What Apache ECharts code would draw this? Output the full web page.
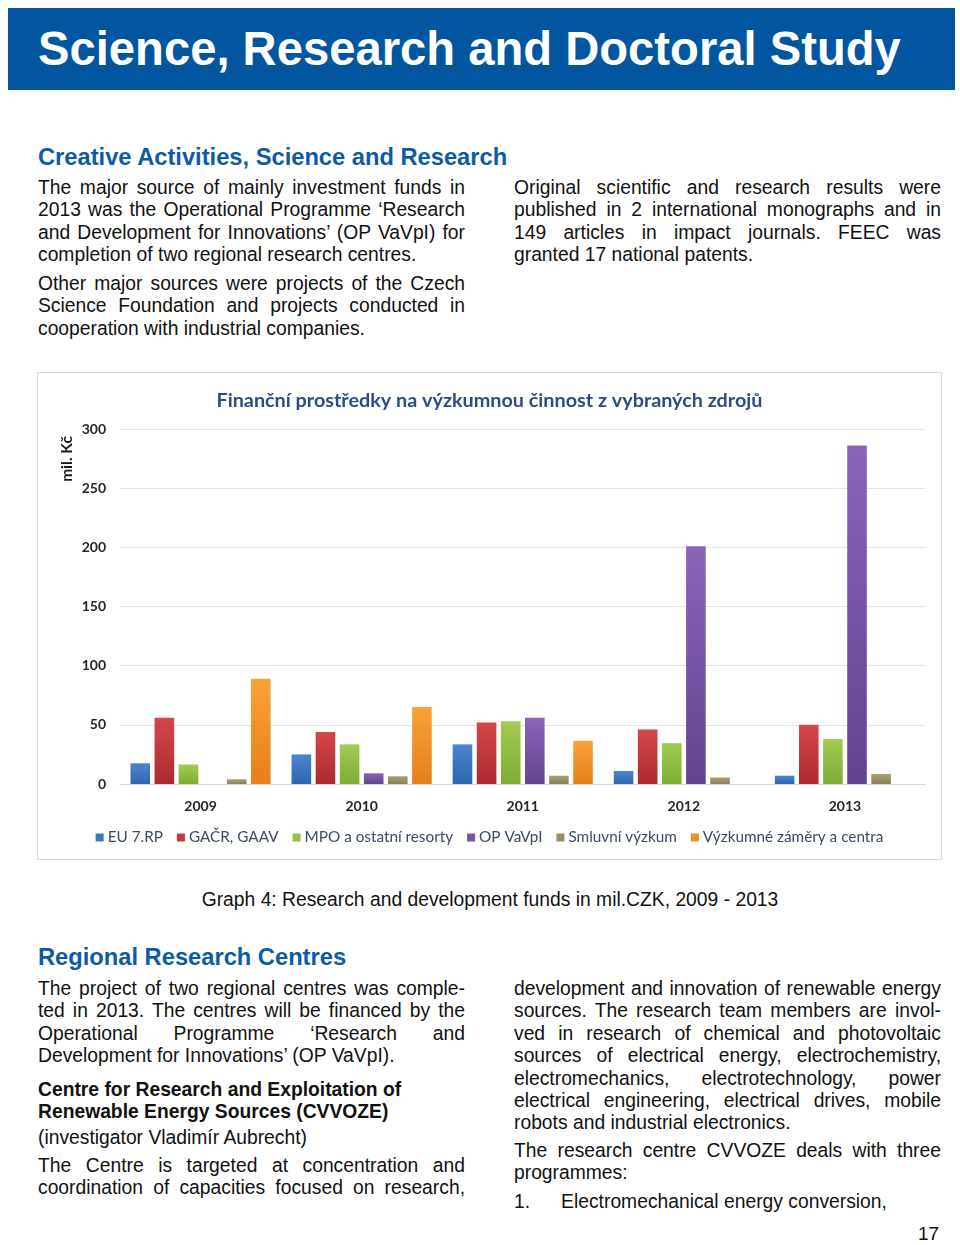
<!DOCTYPE html>
<html>
<head>
<meta charset="utf-8">
<script src="https://cdn.jsdelivr.net/npm/echarts@6/dist/echarts.min.js"></script>
<style>
  html, body { margin:0; padding:0; background:#fff; }
  body { width:960px; height:1245px; position:relative; overflow:hidden; font-family:"Liberation Sans", Arial, sans-serif; color:#111; }
  .header { position:absolute; left:8px; top:8px; width:947px; height:82px; background:#02569f; }
  .header h1 { position:absolute; left:30px; top:12px; margin:0; font-size:47.2px; line-height:58px; font-weight:bold; color:#fff; }
  .h2 { position:absolute; margin:0; font-weight:bold; color:#0e5aa4; font-size:23.7px; line-height:28px; white-space:nowrap; }
  .blk { position:absolute; font-size:19.3px; line-height:22.4px; }
  .blk div { white-space:nowrap; text-align:justify; text-align-last:justify; }
  .blk div.l { text-align:left; text-align-last:left; }
  .cap { position:absolute; left:0; width:980px; text-align:center; top:888px; font-size:19.3px; line-height:24px; }
  #chart { position:absolute; left:38px; top:373px; width:903px; height:486px; }
  .frame { position:absolute; left:37px; top:372px; width:903px; height:486px; border:1px solid #d6dde6; pointer-events:none; }
  .pg { position:absolute; left:918px; top:1223px; font-size:19px; line-height:22px; }
</style>
</head>
<body>
<div class="header"><h1>Science, Research and Doctoral Study</h1></div>

<div class="h2" style="left:38px; top:143px;">Creative Activities, Science and Research</div>
<div class="blk" style="left:38px; top:177px; width:427px;">
  <div>The major source of mainly investment funds in</div>
  <div>2013 was the Operational Programme ‘Research</div>
  <div>and Development for Innovations’ (OP VaVpI) for</div>
  <div class="l">completion of two regional research centres.</div>
</div>
<div class="blk" style="left:38px; top:273px; width:427px;">
  <div>Other major sources were projects of the Czech</div>
  <div>Science Foundation and projects conducted in</div>
  <div class="l">cooperation with industrial companies.</div>
</div>
<div class="blk" style="left:514px; top:177px; width:427px;">
  <div>Original scientific and research results were</div>
  <div>published in 2 international monographs and in</div>
  <div>149 articles in impact journals. FEEC was</div>
  <div class="l">granted 17 national patents.</div>
</div>

<div id="chart"></div>
<div class="frame"></div>

<div class="cap">Graph 4: Research and development funds in mil.CZK, 2009 - 2013</div>

<div class="h2" style="left:38px; top:943px;">Regional Research Centres</div>
<div class="blk" style="left:38px; top:978px; width:427px;">
  <div>The project of two regional centres was comple-</div>
  <div>ted in 2013. The centres will be financed by the</div>
  <div>Operational Programme ‘Research and</div>
  <div class="l">Development for Innovations’ (OP VaVpI).</div>
</div>
<div class="blk" style="left:38px; top:1079px; width:427px; font-weight:bold;">
  <div class="l">Centre for Research and Exploitation of</div>
  <div class="l">Renewable Energy Sources (CVVOZE)</div>
</div>
<div class="blk" style="left:38px; top:1127px; width:427px;">
  <div class="l">(investigator Vladimír Aubrecht)</div>
</div>
<div class="blk" style="left:38px; top:1155px; width:427px;">
  <div>The Centre is targeted at concentration and</div>
  <div>coordination of capacities focused on research,</div>
</div>
<div class="blk" style="left:514px; top:978px; width:427px;">
  <div>development and innovation of renewable energy</div>
  <div>sources. The research team members are invol-</div>
  <div>ved in research of chemical and photovoltaic</div>
  <div>sources of electrical energy, electrochemistry,</div>
  <div>electromechanics, electrotechnology, power</div>
  <div>electrical engineering, electrical drives, mobile</div>
  <div class="l">robots and industrial electronics.</div>
</div>
<div class="blk" style="left:514px; top:1140px; width:427px;">
  <div>The research centre CVVOZE deals with three</div>
  <div class="l">programmes:</div>
</div>
<div class="blk" style="left:514px; top:1191px; width:427px;">
  <div class="l">1.<span style="display:inline-block; width:31px;"></span>Electromechanical energy conversion,</div>
</div>
<div class="pg">17</div>

<script>
const years = ['2009', '2010', '2011', '2012', '2013'];
const seriesNames = ['EU 7.RP', 'GAČR, GAAV', 'MPO a ostatní resorty', 'OP VaVpI', 'Smluvní výzkum', 'Výzkumné záměry a centra'];
const euRP = [17.5, 25, 33.5, 11, 7];
const gacrGaav = [56, 44, 52, 46, 50];
const mpoResorty = [16.5, 33.5, 53, 34.5, 38];
const opVaVpI = [0, 9, 56, 201, 286];
const smluvniVyzkum = [4, 6.5, 7, 5.5, 8.5];
const vyzkumneZamery = [89, 65, 36.5, 0, 0];
const yTicks = [0, 50, 100, 150, 200, 250, 300];

const values = [euRP, gacrGaav, mpoResorty, opVaVpI, smluvniVyzkum, vyzkumneZamery];
const colors = [
  ['#4a86d0', '#2f65ae'],
  ['#d4474a', '#ac2a2e'],
  ['#a2cc52', '#7eac34'],
  ['#8a64b8', '#624391'],
  ['#a89f72', '#8a8157'],
  ['#f9a23a', '#e57f1a']
];
const legendColors = ['#3a75c0', '#c23a3d', '#93c045', '#7854a6', '#9a9064', '#f08c28'];

const chart = echarts.init(document.getElementById('chart'));
chart.setOption({
  animation: false,
  title: {
    text: 'Finanční prostředky na výzkumnou činnost z vybraných zdrojů',
    left: 'center', top: 13,
    textStyle: { fontFamily: 'Lato', fontWeight: 'bold', fontSize: 19.8, color: '#2d4c86' }
  },
  grid: { left: 82, right: 15.5, top: 56, bottom: 75 },
  legend: {
    bottom: 9,
    left: 'center',
    icon: 'rect', itemWidth: 8, itemHeight: 8, itemGap: 14,
    textStyle: { fontFamily: 'Lato', fontSize: 15.3, color: '#3b4a66', padding: [0, 0, 0, -1] },
    data: seriesNames.map((n, i) => ({ name: n, itemStyle: { color: legendColors[i] } }))
  },
  graphic: [{
    type: 'text', x: 29, y: 86, rotation: Math.PI / 2,
    style: { text: 'mil. Kč', fontFamily: 'Lato', fontWeight: 'bold', fontSize: 15.5, fill: '#1a1a1a', textAlign: 'center', textVerticalAlign: 'middle' }
  }],
  xAxis: {
    type: 'category', data: years,
    axisTick: { show: false },
    axisLine: { lineStyle: { color: '#d9d9d9' } },
    axisLabel: { fontFamily: 'Lato', fontWeight: 'bold', fontSize: 14, color: '#262626', margin: 15 }
  },
  yAxis: {
    type: 'value', min: yTicks[0], max: yTicks[yTicks.length - 1], interval: 50,
    axisLine: { show: false }, axisTick: { show: false },
    splitLine: { lineStyle: { color: '#e4e4e4' } },
    axisLabel: { fontFamily: 'Lato', fontWeight: 'bold', fontSize: 14, color: '#262626', margin: 14 }
  },
  series: seriesNames.map((n, i) => ({
    name: n, type: 'bar', data: values[i],
    barGap: '23%', barCategoryGap: '13%',
    itemStyle: {
      color: new echarts.graphic.LinearGradient(0, 0, 0, 1, [
        { offset: 0, color: colors[i][0] }, { offset: 1, color: colors[i][1] }
      ])
    }
  }))
});
</script>
</body>
</html>
